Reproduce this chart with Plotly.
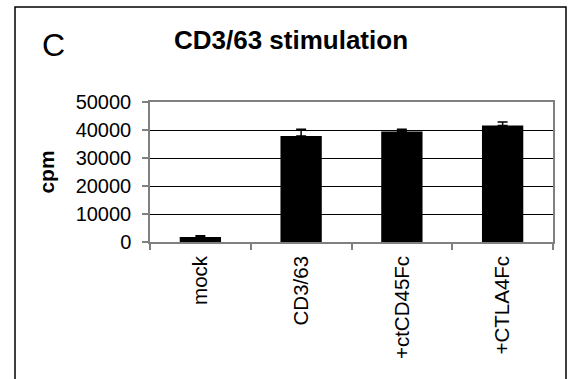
import plotly.graph_objects as go

categories = ["mock", "CD3/63", "+ctCD45Fc", "+CTLA4Fc"]
values = [1800, 37900, 39500, 41600]
errors = [450, 2400, 800, 1300]
y_ticks = [0, 10000, 20000, 30000, 40000, 50000]

FONT = "Liberation Sans, Arial, sans-serif"

fig = go.Figure()
fig.add_trace(go.Bar(
    x=categories, y=values,
    marker=dict(color="black", line=dict(color="black", width=0)),
    error_y=dict(type="data", array=errors, arrayminus=[0]*len(errors),
                 color="black", thickness=1.5, width=5),
    width=0.41,
))

W, H = 571, 379
L, R, T, B = 150, 18, 102, 137
pw, ph = W - L - R, H - T - B

def px_to_paper_x(px):
    return (px - L) / pw

def px_to_paper_y(py):
    return (H - B - py) / ph

fig.update_layout(
    width=W, height=H,
    margin=dict(l=L, r=R, t=T, b=B, pad=0),
    paper_bgcolor="white", plot_bgcolor="white",
    font=dict(family=FONT, size=20, color="black"),
    showlegend=False,
    title=dict(text="<b>CD3/63 stimulation</b>", x=px_to_paper_x(291), xref="paper",
               xanchor="center", y=1 - 40 / H, yanchor="middle",
               font=dict(size=26, family=FONT)),
    xaxis=dict(
        type="category", tickson="boundaries", ticks="outside", ticklen=6,
        tickcolor="#808080", tickwidth=1.5,
        showline=True, linecolor="#808080", linewidth=1.5, mirror=True,
        tickangle=-90, tickfont=dict(size=20.5), showgrid=False,
        ticklabelstandoff=4,
    ),
    yaxis=dict(
        range=[0, 50000], tickvals=y_ticks, ticktext=[str(v) for v in y_ticks],
        ticks="outside", ticklen=6, tickcolor="#808080", tickwidth=1.5,
        showline=True, linecolor="#808080", linewidth=1.5, mirror=True,
        showgrid=True, gridcolor="black", gridwidth=1, zeroline=False,
        tickfont=dict(size=20), ticklabelstandoff=7,
        title=dict(text="<b>cpm</b>", font=dict(size=21), standoff=15),
    ),
    shapes=[dict(type="rect", xref="paper", yref="paper",
                 x0=px_to_paper_x(15), x1=px_to_paper_x(566),
                 y0=px_to_paper_y(390), y1=px_to_paper_y(7),
                 line=dict(color="black", width=1.5), layer="below")],
    annotations=[dict(text="C", xref="paper", yref="paper",
                      x=px_to_paper_x(40), y=px_to_paper_y(45),
                      xanchor="left", yanchor="middle", showarrow=False,
                      font=dict(size=32, family=FONT))],
)

fig.write_html("out.html")
